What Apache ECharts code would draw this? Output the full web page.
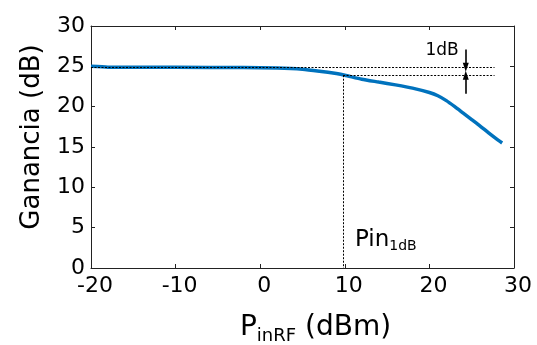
<!DOCTYPE html>
<html>
<head>
<meta charset="utf-8">
<script src="https://cdn.jsdelivr.net/npm/echarts@6/dist/echarts.min.js"></script>
<style>
  html, body { margin: 0; padding: 0; background: #fff; }
  #main { width: 537px; height: 345px; }
</style>
</head>
<body>
<div id="main"></div>
<script>
// datos
const pinRF = [-20, -18, -10, -2, 2, 5, 7, 9, 10, 12, 14, 16, 18, 20, 21, 22, 23, 24, 25, 26, 27, 28, 28.6];
const ganancia = [25.0, 24.9, 24.88, 24.85, 24.8, 24.65, 24.4, 24.1, 23.9, 23.4, 23.05, 22.7, 22.3, 21.75, 21.35, 20.75, 20.0, 19.2, 18.4, 17.6, 16.75, 15.95, 15.5];
const xTicks = [-20, 30, 10];   // min, max, interval
const yTicks = [0, 30, 5];

// referencias del punto de compresion de 1 dB
const refAlta = 24.9;
const refBaja = 23.9;
const pin1dB = 9.8;
const refFin = 27.7;
const flechaX = 24.3;
const flechaArriba = 27.1;
const flechaAbajo = 21.6;

const font = 'DejaVu Sans';

let myChart = echarts.init(document.getElementById('main'));

const dotted = { color: '#000', width: 1, type: [2, 1.5] };
const arrowLine = { color: '#000', width: 1.6, type: 'solid' };

const xBase = {
    type: 'value', min: xTicks[0], max: xTicks[1], interval: xTicks[2],
    axisLine: { onZero: false, lineStyle: { color: '#222', width: 1 } },
    axisTick: { inside: true, length: 4, lineStyle: { color: '#222' } },
    splitLine: { show: false }
};
const yBase = {
    type: 'value', min: yTicks[0], max: yTicks[1], interval: yTicks[2],
    axisLine: { show: true, onZero: false, lineStyle: { color: '#222', width: 1 } },
    axisTick: { show: true, inside: true, length: 4, lineStyle: { color: '#222' } },
    splitLine: { show: false }
};

myChart.setOption({
    animation: false,
    grid: { left: 91, right: 23, top: 26, bottom: 77, outerBoundsMode: 'none' },
    xAxis: [
        Object.assign({}, xBase, {
            position: 'bottom',
            axisLabel: { fontFamily: font, fontSize: 22, color: '#000', margin: 7, padding: [0, 0, 0, 8] },
            name: '{a|P}{b|inRF}{a| (dBm)}',
            nameLocation: 'middle',
            nameGap: 43,
            nameTextStyle: {
                padding: [0, 0, 0, 26],
                rich: {
                    a: { fontFamily: font, fontSize: 28, color: '#000' },
                    b: { fontFamily: font, fontSize: 18, color: '#000', padding: [16, 0, 0, 0] }
                }
            }
        }),
        Object.assign({}, xBase, { position: 'top', axisLabel: { show: false } })
    ],
    yAxis: [
        Object.assign({}, yBase, {
            position: 'left',
            axisLabel: { fontFamily: font, fontSize: 22, color: '#000', margin: 6 },
            name: 'Ganancia (dB)',
            nameLocation: 'middle',
            nameGap: 46,
            nameTextStyle: { fontFamily: font, fontSize: 26, color: '#000', padding: [0, 0, 0, 20] }
        }),
        Object.assign({}, yBase, { position: 'right', axisLabel: { show: false } })
    ],
    series: [
        {
            type: 'line',
            data: pinRF.map((x, i) => [x, ganancia[i]]),
            showSymbol: false,
            smooth: 0.2,
            lineStyle: { color: '#0072BD', width: 3.5 },
            z: 2,
            markLine: {
                silent: true,
                symbol: ['none', 'none'],
                label: { show: false },
                lineStyle: dotted,
                z: 3,
                data: [
                    [{ coord: [xTicks[0], refAlta] }, { coord: [refFin, refAlta] }],
                    [{ coord: [pin1dB, refBaja] }, { coord: [refFin, refBaja] }],
                    [{ coord: [pin1dB, refBaja] }, { coord: [pin1dB, yTicks[0]] }],
                    [
                        { coord: [flechaX, flechaArriba], lineStyle: arrowLine },
                        { coord: [flechaX, refAlta], symbol: 'triangle', symbolSize: [6, 9] }
                    ],
                    [
                        { coord: [flechaX, flechaAbajo], lineStyle: arrowLine },
                        { coord: [flechaX, refBaja], symbol: 'triangle', symbolSize: [6, 9] }
                    ]
                ]
            },
            markPoint: {
                silent: true,
                symbol: 'circle',
                symbolSize: 0,
                data: [
                    {
                        coord: [21.5, 27.0],
                        label: { show: true, formatter: '1dB', fontFamily: font, fontSize: 17, color: '#000', position: 'inside' }
                    },
                    {
                        coord: [11.2, 3.5],
                        label: {
                            show: true, position: 'right', distance: 0,
                            formatter: '{a|Pin}{b|1dB}',
                            rich: {
                                a: { fontFamily: font, fontSize: 23, color: '#000' },
                                b: { fontFamily: font, fontSize: 14, color: '#000', padding: [14, 0, 0, 0] }
                            }
                        }
                    }
                ]
            }
        }
    ]
});
</script>
</body>
</html>
